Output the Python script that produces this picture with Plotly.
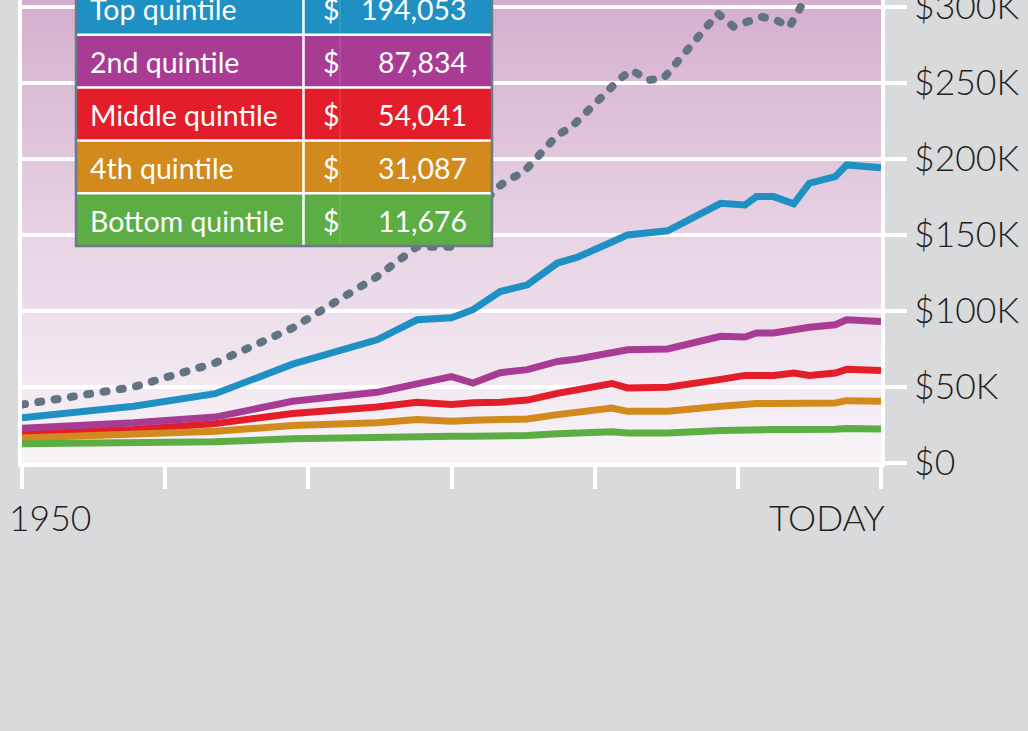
import plotly.graph_objects as go

# ---------------- data (values in $ thousands) ----------------
years = [1950.0, 1957.8, 1963.5, 1968.9, 1974.8, 1977.6, 1980.0, 1981.5, 1983.4, 1985.3,
         1987.4, 1988.8, 1991.2, 1992.3, 1995.1, 1998.8, 2000.5, 2001.3, 2002.5, 2003.9,
         2005.0, 2006.8, 2007.6, 2010.0]
top_quintile = [29.7, 37.3, 45.6, 65.0, 81.0, 94.2, 95.5, 100.8, 112.8, 117.2,
                131.5, 135.4, 145.3, 150.0, 152.7, 170.8, 169.7, 175.2, 175.2, 170.4,
                184.0, 188.3, 196.0, 194.1]
second_quintile = [22.9, 26.4, 30.2, 40.6, 46.5, 52.0, 56.8, 52.6, 59.4, 61.4,
                   66.8, 68.4, 72.5, 74.5, 75.0, 83.3, 82.9, 85.5, 85.5, 87.7,
                   89.3, 90.9, 94.2, 93.1]
middle_quintile = [20.2, 22.0, 25.9, 32.5, 36.8, 39.9, 38.4, 39.7, 40.0, 41.4,
                   45.8, 48.3, 52.3, 49.4, 49.9, 55.0, 57.6, 57.6, 57.6, 59.2,
                   57.5, 59.2, 61.6, 60.8]
fourth_quintile = [16.5, 18.7, 20.9, 24.6, 26.4, 28.6, 27.4, 28.1, 28.1, 29.0,
                   31.8, 33.5, 36.2, 34.0, 34.0, 37.3, 39.1, 39.1, 39.1, 39.5,
                   38.9, 39.5, 41.0, 40.6]
bottom_quintile = [12.6, 13.3, 13.9, 15.9, 16.9, 18.1, 17.6, 17.6, 17.6, 18.1,
                   19.2, 19.8, 20.5, 19.8, 19.8, 21.3, 22.0, 22.0, 22.0, 22.0,
                   21.7, 22.2, 22.7, 22.4]

top5_years = [1950.0, 1957.8, 1963.5, 1968.9, 1974.8, 1977.6, 1980.0, 1983.0, 1983.9, 1985.0,
              1987.4, 1988.4, 1991.8, 1992.6, 1993.7, 1994.8, 1998.6, 1999.7, 2000.6, 2001.7,
              2002.7, 2003.6, 2005.0, 2006.8, 2007.6, 2010.0]
top5_values = [38.4, 50.0, 65.8, 88.8, 122.6, 142.3, 142.3, 179.6, 186.1, 190.9,
               215.7, 221.1, 253.0, 258.4, 251.8, 252.9, 295.6, 287.0, 290.0, 293.4,
               291.2, 286.8, 310.0, 318.0, 330.0, 325.0]

table_names = ["Top quintile", "2nd quintile", "Middle quintile", "4th quintile", "Bottom quintile"]
table_values = [194053, 87834, 54041, 31087, 11676]

y_tickvals = [0, 50, 100, 150, 200, 250, 300]
y_ticktext = ["$0", "$50K", "$100K", "$150K", "$200K", "$250K", "$300K"]
x_tickvals = [1950, 1960, 1970, 1980, 1990, 2000, 2010]
x_labels = ["1950", "TODAY"]

# ---------------- styling ----------------
W, H = 1028, 731
PL, PR, PT, PB = 22, 881, 0, 463          # plot area in pixels
colors = ["#1e90c3", "#a83c95", "#e31e2a", "#d18a1b", "#5cad44"]
dot_color = "#627384"
FONT = "Lato"


def fx(p):
    return (p - PL) / (PR - PL)


def fy(p):
    return (PB - p) / (PB - PT)


fig = go.Figure()

series = [top_quintile, second_quintile, middle_quintile, fourth_quintile, bottom_quintile]
order = [2, 3, 4, 1, 0]
for i in order:
    fig.add_trace(go.Scatter(x=years, y=series[i], mode="lines",
                             line=dict(color=colors[i], width=7),
                             hoverinfo="skip", showlegend=False))
fig.add_trace(go.Scatter(x=top5_years, y=top5_values, mode="lines",
                         line=dict(color=dot_color, width=8, dash="3px,13.5px"),
                         hoverinfo="skip", showlegend=False))

shapes = []
# gradient background (slightly overlapping strips to avoid seams)
N = 90
top_c = (213, 175, 206)
bot_c = (248, 245, 248)
for k in range(N):
    t = (k + 0.5) / N
    c = tuple(round(bot_c[j] + (top_c[j] - bot_c[j]) * t) for j in range(3))
    shapes.append(dict(type="rect", xref="paper", yref="paper", x0=0, x1=1,
                       y0=k / N, y1=min(1.0, (k + 1.6) / N), layer="below",
                       fillcolor="rgb(%d,%d,%d)" % c, line=dict(width=0)))

# table
T_L, T_R, T_B = 76, 492, 246
ROW_H = 52.8
COL1 = 303.5
for i, name in enumerate(table_names):
    top = T_B - (5 - i) * ROW_H
    bot = top + ROW_H
    shapes.append(dict(type="rect", xref="paper", yref="paper",
                       x0=fx(T_L), x1=fx(T_R), y0=fy(bot), y1=fy(top),
                       fillcolor=colors[i], line=dict(width=0), layer="above"))
for i in range(1, 5):
    yb = T_B - (5 - i) * ROW_H
    shapes.append(dict(type="line", xref="paper", yref="paper",
                       x0=fx(T_L), x1=fx(T_R), y0=fy(yb), y1=fy(yb),
                       line=dict(color="white", width=2.5), layer="above"))
shapes.append(dict(type="line", xref="paper", yref="paper",
                   x0=fx(COL1), x1=fx(COL1), y0=fy(T_B), y1=fy(T_B - 5 * ROW_H),
                   line=dict(color="white", width=2.5), layer="above"))
shapes.append(dict(type="line", xref="paper", yref="paper",
                   x0=fx(340), x1=fx(340), y0=fy(T_B), y1=fy(T_B - 5 * ROW_H),
                   line=dict(color="rgba(255,255,255,0.18)", width=1), layer="above"))
shapes.append(dict(type="rect", xref="paper", yref="paper",
                   x0=fx(T_L), x1=fx(T_R), y0=fy(T_B), y1=fy(T_B - 5 * ROW_H),
                   fillcolor="rgba(0,0,0,0)", line=dict(color="#687a8b", width=2.5),
                   layer="above"))

annotations = []
for i, name in enumerate(table_names):
    yc = T_B - (5 - i) * ROW_H + ROW_H / 2 + 1
    tf = dict(family=FONT, size=28.5, color="white")
    annotations.append(dict(xref="paper", yref="paper", x=fx(88), y=fy(yc),
                            xanchor="left", yanchor="middle", text=name,
                            showarrow=False, font=tf))
    annotations.append(dict(xref="paper", yref="paper", x=fx(321), y=fy(yc),
                            xanchor="left", yanchor="middle", text="$",
                            showarrow=False, font=tf))
    annotations.append(dict(xref="paper", yref="paper", x=fx(469), y=fy(yc),
                            xanchor="right", yanchor="middle",
                            text="{:,}".format(table_values[i]),
                            showarrow=False, font=tf))

lab_font = dict(family=FONT, size=35.5, color="#231f20", weight=300)
annotations.append(dict(xref="paper", yref="paper", x=fx(7), y=fy(517),
                        xanchor="left", yanchor="middle", text=x_labels[0],
                        showarrow=False, font=lab_font))
annotations.append(dict(xref="paper", yref="paper", x=fx(887), y=fy(517),
                        xanchor="right", yanchor="middle", text=x_labels[1],
                        showarrow=False, font=lab_font))

fig.update_layout(
    width=W, height=H,
    margin=dict(l=PL, r=W - PR, t=PT, b=H - PB, pad=0, autoexpand=False),
    paper_bgcolor="#d9dadc",
    plot_bgcolor="rgba(0,0,0,0)",
    shapes=shapes,
    annotations=annotations,
    showlegend=False,
    hovermode=False,
    xaxis=dict(range=[1950, 2010], tickvals=x_tickvals, showticklabels=False,
               ticks="outside", ticklen=22, tickwidth=4, tickcolor="white",
               showline=True, linewidth=4, linecolor="white", automargin=False,
               showgrid=False, zeroline=False, fixedrange=True),
    yaxis=dict(range=[0, 304.5], side="right", tickvals=y_tickvals, ticktext=y_ticktext,
               ticks="outside", ticklen=22, tickwidth=4, tickcolor="white",
               showline=True, linewidth=4, linecolor="white", mirror=True,
               showgrid=True, gridcolor="white", gridwidth=4, zeroline=False,
               automargin=False,
               tickfont=lab_font, ticklabeloverflow="allow", fixedrange=True),
)

post = (
    "document.body.style.margin='0';"
    "document.body.style.background='#d9dadc';"
    "var gd=document.getElementById('{plot_id}');"
    "var tr=gd.querySelectorAll('.scatterlayer .trace');"
    "var last=tr[tr.length-1];"
    "if(last){last.querySelectorAll('path.js-line').forEach(function(p){"
    "p.style.strokeLinecap='round';});}"
)

fig.write_html("out.html", post_script=post, config={"displayModeBar": False})
